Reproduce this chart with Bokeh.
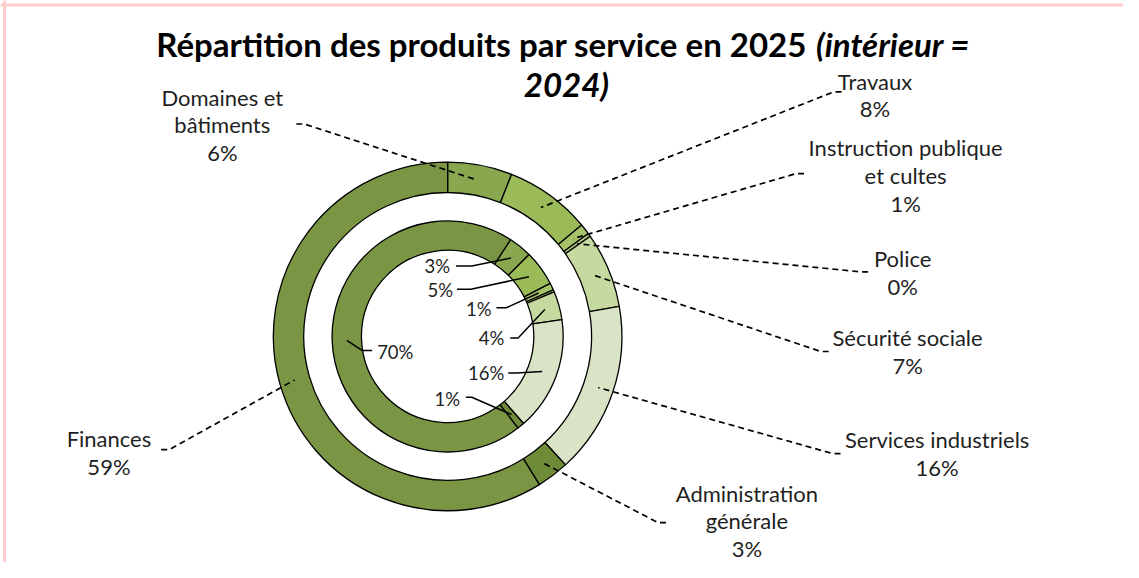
import math
from bokeh.plotting import figure
from bokeh.models import Range1d, Span, ColumnDataSource
from bokeh.core.properties import value
from bokeh.embed import file_html
from bokeh.resources import INLINE

# ---------------- data ----------------
categories = ["Domaines et\nbâtiments", "Travaux", "Instruction publique\net cultes", "Police",
              "Sécurité sociale", "Services industriels", "Administration\ngénérale", "Finances"]
values_2025 = [6.0, 8.0, 1.0, 0.3, 7.0, 16.0, 3.0, 59.0]   # outer ring
values_2024 = [3.3, 5.0, 1.0, 0.3, 4.0, 16.0, 1.0, 70.0]   # inner ring
title_part1 = "Répartition des produits par service en 2025"
title_part2 = "(intérieur ="
title_part3 = "2024)"

# ---------------- style / layout ----------------
colors = ["#88A74E", "#9BBB59", "#A6C36A", "#B5CD82", "#C6D9A0", "#D9E4C6", "#6E8B38", "#7A9544"]
W, H = 1123, 562
KX, KY = W / 1139.0, H / 578.0
KR = (KX + KY) / 2
def sx(X): return X * KX
def sy(Y): return H - Y * KY

CX, CY = sx(453.5), sy(345.5)
R_OUT = (147 * KR, 178 * KR)
R_IN = (88 * KR, 118 * KR)
START_OUT = 0.0
START_IN = 33.0

FONT = value("Lato")

# outer label layout: text centre (x, y), anchor (x, y), knee dx  (reference pixels)
out_text_xy = [(225, 128), (887, 97), (918, 180), (915, 280), (920, 361), (950, 466), (757, 535), (110, 465)]
out_anchor = [(300, 127), (853, 94), (815, 178), (880, 279), (840, 361), (852, 466), (675, 537), (163, 462)]
out_knee = [8, -8, -8, -8, -8, -8, -8, 8]

# inner label layout: text pos, align, anchor, knee dx  (None = no label)
in_text_xy = [(456, 273), (459, 298), (498, 317), None, (511, 347), (511, 383), (466, 410), (382, 362)]
in_align = ["right", "right", "right", None, "right", "right", "right", "left"]
in_anchor = [(462, 273), (463, 297), (503, 316), None, (517, 347), (515, 383), (472, 408), (377, 360)]
in_knee = [16, 14, 10, None, 8, 8, 6, -10]


def angles(vals, start):
    tot = sum(vals)
    a = start
    res = []
    for v in vals:
        e = a + v / tot * 360.0
        res.append((a, e))
        a = e
    return res


def pt(theta_deg, r):
    t = math.radians(theta_deg)
    return CX + r * math.sin(t), CY + r * math.cos(t)


p = figure(width=W, height=H, x_range=Range1d(0, W), y_range=Range1d(0, H),
           x_axis_type=None, y_axis_type=None, output_backend="svg",
           toolbar_location=None, min_border=0)
p.grid.visible = False
p.outline_line_color = None
p.background_fill_color = "white"
p.border_fill_color = "white"

# pink frame (top and left)
p.add_layout(Span(location=H - 4.5, dimension="width", line_color="#FFCCCC", line_width=3))
p.add_layout(Span(location=4, dimension="height", line_color="#FFCCCC", line_width=3))

for vals, start, (ri, ro) in ((values_2025, START_OUT, R_OUT), (values_2024, START_IN, R_IN)):
    ang = angles(vals, start)
    src = ColumnDataSource(dict(
        s=[math.radians(90 - a) for a, b in ang],
        e=[math.radians(90 - b) for a, b in ang],
        c=colors))
    p.annular_wedge(x=CX, y=CY, inner_radius=ri, outer_radius=ro, start_angle="s", end_angle="e",
                    direction="clock", fill_color="c", line_color="black", line_width=1.3, source=src)

# outer labels
ang_o = angles(values_2025, START_OUT)
tot_o = sum(values_2025)
xs, ys = [], []
tx, ty, tt = [], [], []
for i, (a, b) in enumerate(ang_o):
    wx, wy = pt((a + b) / 2, sum(R_OUT) / 2)
    ax, ay = out_anchor[i]
    xs.append([sx(ax), sx(ax + out_knee[i]), wx])
    ys.append([sy(ay), sy(ay), wy])
    tx.append(sx(out_text_xy[i][0]))
    ty.append(sy(out_text_xy[i][1]))
    tt.append(categories[i] + "\n" + "%d%%" % round(values_2025[i] / tot_o * 100))
p.multi_line(xs=xs, ys=ys, line_color="black", line_width=1.7, line_dash="6 4")
p.text(x=tx, y=ty, text=tt, text_font=FONT, text_font_size="22px", text_align="center",
       text_baseline="middle", text_line_height=1.02, text_color="#1f1f1f")

# inner labels
ang_i = angles(values_2024, START_IN)
tot_i = sum(values_2024)
xs, ys = [], []
for i, (a, b) in enumerate(ang_i):
    if in_text_xy[i] is None:
        continue
    wx, wy = pt((a + b) / 2, sum(R_IN) / 2)
    ax, ay = in_anchor[i]
    xs.append([sx(ax), sx(ax + in_knee[i]), wx])
    ys.append([sy(ay), sy(ay), wy])
    p.text(x=[sx(in_text_xy[i][0])], y=[sy(in_text_xy[i][1])],
           text=["%d%%" % round(values_2024[i] / tot_i * 100)],
           text_font=FONT, text_font_size="18.5px", text_align=in_align[i],
           text_baseline="middle", text_color="#1f1f1f")
p.multi_line(xs=xs, ys=ys, line_color="black", line_width=1.5)

# title
p.text(x=[sx(818)], y=[sy(45)], text=[title_part1], text_font=FONT, text_font_size="33px",
       text_font_style="bold", text_align="right", text_baseline="middle", text_color="black")
p.text(x=[sx(827)], y=[sy(45)], text=[title_part2], text_font=FONT, text_font_size="33px",
       text_font_style="bold italic", text_align="left", text_baseline="middle", text_color="black")
p.text(x=[sx(574)], y=[sy(86)], text=[title_part3], text_font=FONT, text_font_size="33px",
       text_font_style="bold italic", text_align="center", text_baseline="middle", text_color="black")

open("out.html", "w").write(file_html(p, INLINE))
